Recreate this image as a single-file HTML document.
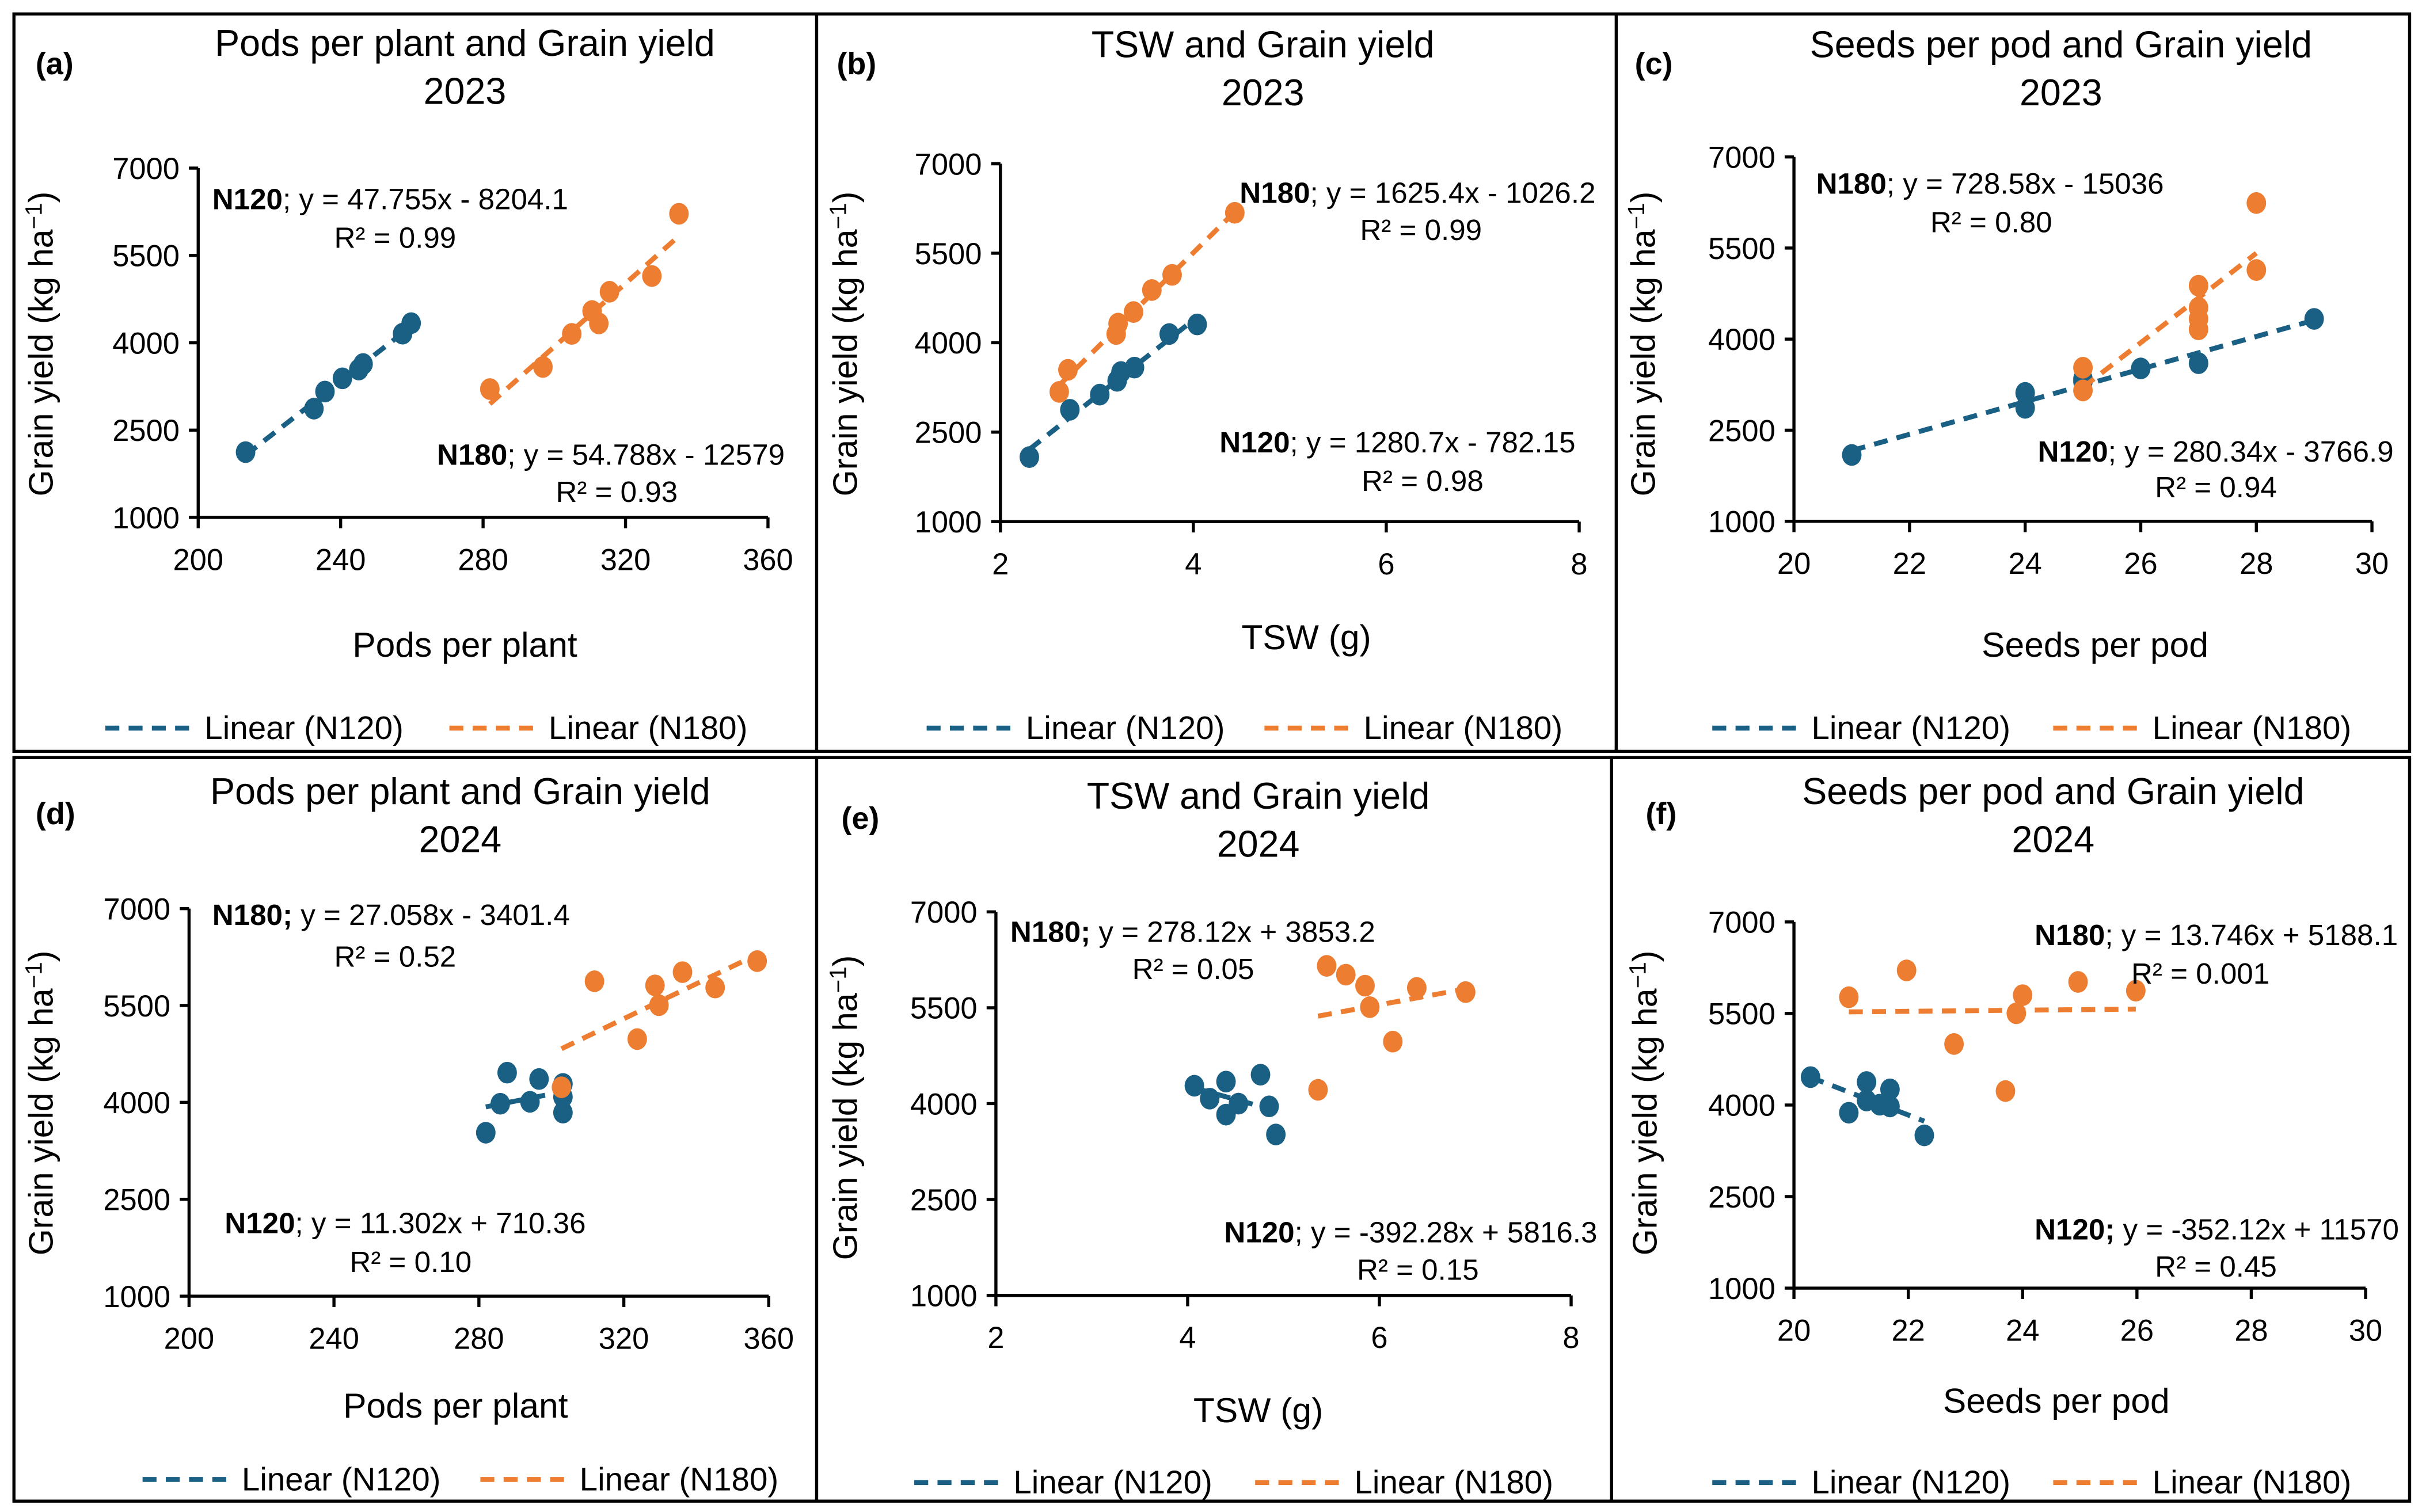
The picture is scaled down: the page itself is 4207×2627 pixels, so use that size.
<!DOCTYPE html>
<html><head><meta charset="utf-8"><style>
html,body{margin:0;padding:0;background:#fff;}
svg{display:block;font-family:"Liberation Sans",Arial,sans-serif;}
</style></head><body>
<svg id="fig" xmlns="http://www.w3.org/2000/svg" width="4207" height="2627" viewBox="0 0 1563 976" preserveAspectRatio="none">
<rect x="0" y="0" width="1563" height="976" fill="#fff"/>
<g stroke="#000" stroke-width="2" fill="none">
<rect x="9" y="9" width="1546" height="476"/>
<rect x="9" y="489" width="1546" height="480"/>
<line x1="527" y1="9" x2="527" y2="485"/>
<line x1="1043" y1="9" x2="1043" y2="485"/>
<line x1="527" y1="489" x2="527" y2="969"/>
<line x1="1040" y1="489" x2="1040" y2="969"/>
</g>
<g id="root"></g>
</svg>
<script>
// Panel (a) 2023 pods per plant
const aN120x=[213.3,232.5,235.6,240.5,245.1,246.3,257.4,259.8];
const aN120y=[2121,2868,3162,3389,3540,3635,4156,4336];
const aN180x=[281.9,296.8,304.9,310.6,312.5,315.5,327.4,335.0];
const aN180y=[3205,3584,4152,4545,4332,4876,5146,6215];
// Panel (b) 2023 TSW
const bN120x=[2.30,2.72,3.03,3.21,3.25,3.39,3.75,4.04];
const bN120y=[2082,2875,3129,3360,3508,3582,4145,4306];
const bN180x=[2.61,2.70,3.20,3.22,3.38,3.57,3.78,4.43];
const bN180y=[3175,3545,4145,4320,4514,4883,5137,6178];
// Panel (c) 2023 seeds per pod
const cN120x=[21,24,24,25,25,26,27,29];
const cN120y=[2092,3115,2868,3345,3300,3517,3603,4333];
const cN180x=[25,25,27,27,27,27,28,28];
const cN180y=[3529,3155,4879,4517,4333,4161,5138,6241];
// Panel (d) 2024 pods per plant
const dN120x=[281.9,285.9,287.8,294.1,296.6,303.2,303.2,303.2];
const dN120y=[3531,3979,4460,4009,4362,4286,4085,3842];
const dN180x=[302.8,311.9,323.7,328.6,329.7,336.2,345.2,356.8];
const dN180y=[4234,5875,4980,5811,5505,6016,5778,6187];
// Panel (e) 2024 TSW
const eN120x=[4.07,4.23,4.40,4.40,4.53,4.76,4.85,4.92];
const eN120y=[4280,4078,4345,3828,4000,4453,3957,3517];
const eN180x=[5.36,5.45,5.65,5.85,5.90,6.14,6.39,6.90];
const eN180y=[4216,6155,6017,5845,5509,4970,5810,5745];
// Panel (f) 2024 seeds per pod
const fN120x=[20.29,20.96,21.27,21.27,21.50,21.68,21.68,22.28];
const fN120y=[4457,3874,4377,4074,4006,4257,3977,3503];
const fN180x=[20.96,21.97,22.8,23.7,23.89,24.0,24.97,25.98];
const fN180y=[5766,6206,5000,4229,5503,5800,6017,5874];
// Tick labels
const yTicks=[1000,2500,4000,5500,7000];
const podTicks=[200,240,280,320,360];
const tswTicks=[2,4,6,8];
const seedTicks=[20,22,24,26,28,30];

const BLUE="#1a6085", ORANGE="#ed7d31";
const NS="http://www.w3.org/2000/svg";
const root=document.getElementById('root');
function mk(tag,attrs,parent){const e=document.createElementNS(NS,tag);for(const k in attrs)e.setAttribute(k,attrs[k]);(parent||root).appendChild(e);return e;}
function txt(s,x,y,size,anchor,parent,weight){const t=mk('text',{x:x,y:y,'font-size':size,'text-anchor':anchor||'start',fill:'#000'},parent);if(weight)t.setAttribute('font-weight',weight);t.textContent=s;return t;}
function eqText(bold,rest,x,y,parent){const t=mk('text',{x:x,y:y,'font-size':19,fill:'#000'},parent);const b=document.createElementNS(NS,'tspan');b.setAttribute('font-weight','bold');b.textContent=bold;t.appendChild(b);const r=document.createElementNS(NS,'tspan');r.textContent=rest;t.appendChild(r);return t;}
function fit(xs,ys){const n=xs.length;let mx=0,my=0;for(let i=0;i<n;i++){mx+=xs[i];my+=ys[i];}mx/=n;my/=n;let sxy=0,sxx=0;for(let i=0;i<n;i++){sxy+=(xs[i]-mx)*(ys[i]-my);sxx+=(xs[i]-mx)**2;}const m=sxx?sxy/sxx:0;return {m:m,b:my-m*mx};}

const panels=[
 {id:'a',x0:127.9,x1:495.6,y0:334,y1:108.5,xmin:200,xmax:360,xt:podTicks,b120:[aN120x,aN120y],b180:[aN180x,aN180y],
  title:['Pods per plant and Grain yield','2023'],tc:300,tb:[36,67],lab:'(a)',lx:23,ly:48,xtitle:'Pods per plant',xtc:300,xtb:424,ytx:34,ytc:222,
  eq:[['N120','; y = 47.755x - 8204.1',137,135,'R² = 0.99',255,160],['N180','; y = 54.788x - 12579',282,300,'R² = 0.93',398,324]],leg:[68,290,470]},
 {id:'b',x0:645.6,x1:1019.1,y0:336.7,y1:105.7,xmin:2,xmax:8,xt:tswTicks,b120:[bN120x,bN120y],b180:[bN180x,bN180y],
  title:['TSW and Grain yield','2023'],tc:815,tb:[37,68],lab:'(b)',lx:540,ly:48,xtitle:'TSW (g)',xtc:843,xtb:419,ytx:553,ytc:222,
  eq:[['N180','; y = 1625.4x - 1026.2',800,131,'R² = 0.99',917,155],['N120','; y = 1280.7x - 782.15',787,292,'R² = 0.98',918,317]],leg:[598,816,470]},
 {id:'c',x0:1157.7,x1:1530.7,y0:336.5,y1:101.3,xmin:20,xmax:30,xt:seedTicks,b120:[cN120x,cN120y],b180:[cN180x,cN180y],
  title:['Seeds per pod and Grain yield','2023'],tc:1330,tb:[37,68],lab:'(c)',lx:1055,ly:48,xtitle:'Seeds per pod',xtc:1352,xtb:424,ytx:1068,ytc:222,
  eq:[['N180','; y = 728.58x - 15036',1172,125,'R² = 0.80',1285,150],['N120','; y = 280.34x - 3766.9',1315,298,'R² = 0.94',1430,321]],leg:[1105,1325,470]},
 {id:'d',x0:122,x1:496.1,y0:836.7,y1:586.5,xmin:200,xmax:360,xt:podTicks,b120:[dN120x,dN120y],b180:[dN180x,dN180y],
  title:['Pods per plant and Grain yield','2024'],tc:297,tb:[519,550],lab:'(d)',lx:23,ly:532,xtitle:'Pods per plant',xtc:294,xtb:915,ytx:34,ytc:712,
  eq:[['N180;',' y = 27.058x - 3401.4',137,597,'R² = 0.52',255,624],['N120','; y = 11.302x + 710.36',145,796,'R² = 0.10',265,821]],leg:[92,310,955]},
 {id:'e',x0:642.7,x1:1013.9,y0:836.2,y1:588.6,xmin:2,xmax:8,xt:tswTicks,b120:[eN120x,eN120y],b180:[eN180x,eN180y],
  title:['TSW and Grain yield','2024'],tc:812,tb:[522,553],lab:'(e)',lx:543,ly:535,xtitle:'TSW (g)',xtc:812,xtb:918,ytx:553,ytc:715,
  eq:[['N180;',' y = 278.12x + 3853.2',652,608,'R² = 0.05',770,632],['N120','; y = -392.28x + 5816.3',790,802,'R² = 0.15',915,826]],leg:[590,810,957]},
 {id:'f',x0:1157.7,x1:1526.6,y0:831.5,y1:595.1,xmin:20,xmax:30,xt:seedTicks,b120:[fN120x,fN120y],b180:[fN180x,fN180y],
  title:['Seeds per pod and Grain yield','2024'],tc:1325,tb:[519,550],lab:'(f)',lx:1062,ly:532,xtitle:'Seeds per pod',xtc:1327,xtb:912,ytx:1069,ytc:712,
  eq:[['N180','; y = 13.746x + 5188.1',1313,610,'R² = 0.001',1420,635],['N120;',' y = -352.12x + 11570',1313,800,'R² = 0.45',1430,824]],leg:[1105,1325,957]}
];

panels.forEach(p=>{
  const g=mk('g',{});
  
  
  const X=v=>p.x0+(v-p.xmin)/(p.xmax-p.xmin)*(p.x1-p.x0);
  const Y=v=>p.y0+(v-1000)/6000*(p.y1-p.y0);
  const t1=txt(p.title[0],p.tc,p.tb[0],24,'middle',g);
  
  
  const t2=txt(p.title[1],p.tc,p.tb[1],24,'middle',g);
  
  
  const lb=txt(p.lab,p.lx,p.ly,20,'start',g,'bold');
  
  
  const ax=mk('g',{stroke:'#000','stroke-width':2,fill:'none'},g);
  
  
  mk('line',{x1:p.x0,y1:p.y0,x2:p.x1,y2:p.y0},ax);
  mk('line',{x1:p.x0,y1:p.y0,x2:p.x0,y2:p.y1},ax);
  yTicks.forEach(v=>{
    mk('line',{x1:p.x0-6,y1:Y(v),x2:p.x0,y2:Y(v)},ax);
    const l=txt(String(v),p.x0-12,Y(v)+7,19.5,'end',g);
    
    
  });
  p.xt.forEach(v=>{
    mk('line',{x1:X(v),y1:p.y0,x2:X(v),y2:p.y0+7},ax);
    const l=txt(String(v),X(v),p.y0+34,19.5,'middle',g);
    
    
  });
  const xt=txt(p.xtitle,p.xtc,p.xtb,22.5,'middle',g);
  
  
  const yt=mk('text',{x:0,y:0,'font-size':22,'text-anchor':'middle',transform:'translate('+p.ytx+','+p.ytc+') rotate(-90)'},g);
  
  
  yt.textContent='Grain yield (kg ha';
  const sup=document.createElementNS(NS,'tspan');sup.setAttribute('dy','-7');sup.setAttribute('font-size','15');sup.textContent='−1';yt.appendChild(sup);
  const cl=document.createElementNS(NS,'tspan');cl.setAttribute('dy','7');cl.textContent=')';yt.appendChild(cl);
  [[p.b120,BLUE,'n120'],[p.b180,ORANGE,'n180']].forEach(s=>{
    const xs=s[0][0],ys=s[0][1];
    const f=fit(xs,ys);
    const lo=Math.min(...xs),hi=Math.max(...xs);
    const tl=mk('line',{x1:X(lo),y1:Y(f.m*lo+f.b),x2:X(hi),y2:Y(f.m*hi+f.b),stroke:s[1],'stroke-width':3.2,'stroke-dasharray':'9,6'},g);
    
    
    xs.forEach((v,i)=>{
      const c=mk('ellipse',{cx:X(v),cy:Y(ys[i]),rx:6.3,ry:7,fill:s[1]},g);
      
      
    });
  });
  p.eq.forEach(e=>{
    const t=eqText(e[0],e[1],e[2],e[3],g);
    
    
    const r=txt(e[4],e[5],e[6],19,'middle',g);
    
    
  });
  const lg=mk('g',{},g);
  
  
  const ly=p.leg[2];
  const l1=mk('line',{x1:p.leg[0],y1:ly,x2:p.leg[0]+58,y2:ly,stroke:BLUE,'stroke-width':3.2,'stroke-dasharray':'9,6'},lg);
  
  
  const lt1=txt('Linear (N120)',p.leg[0]+64,ly+7,21,'start',lg);
  
  
  const l2=mk('line',{x1:p.leg[1],y1:ly,x2:p.leg[1]+58,y2:ly,stroke:ORANGE,'stroke-width':3.2,'stroke-dasharray':'9,6'},lg);
  
  
  const lt2=txt('Linear (N180)',p.leg[1]+64,ly+7,21,'start',lg);
  
  
});
</script>
</body></html>
